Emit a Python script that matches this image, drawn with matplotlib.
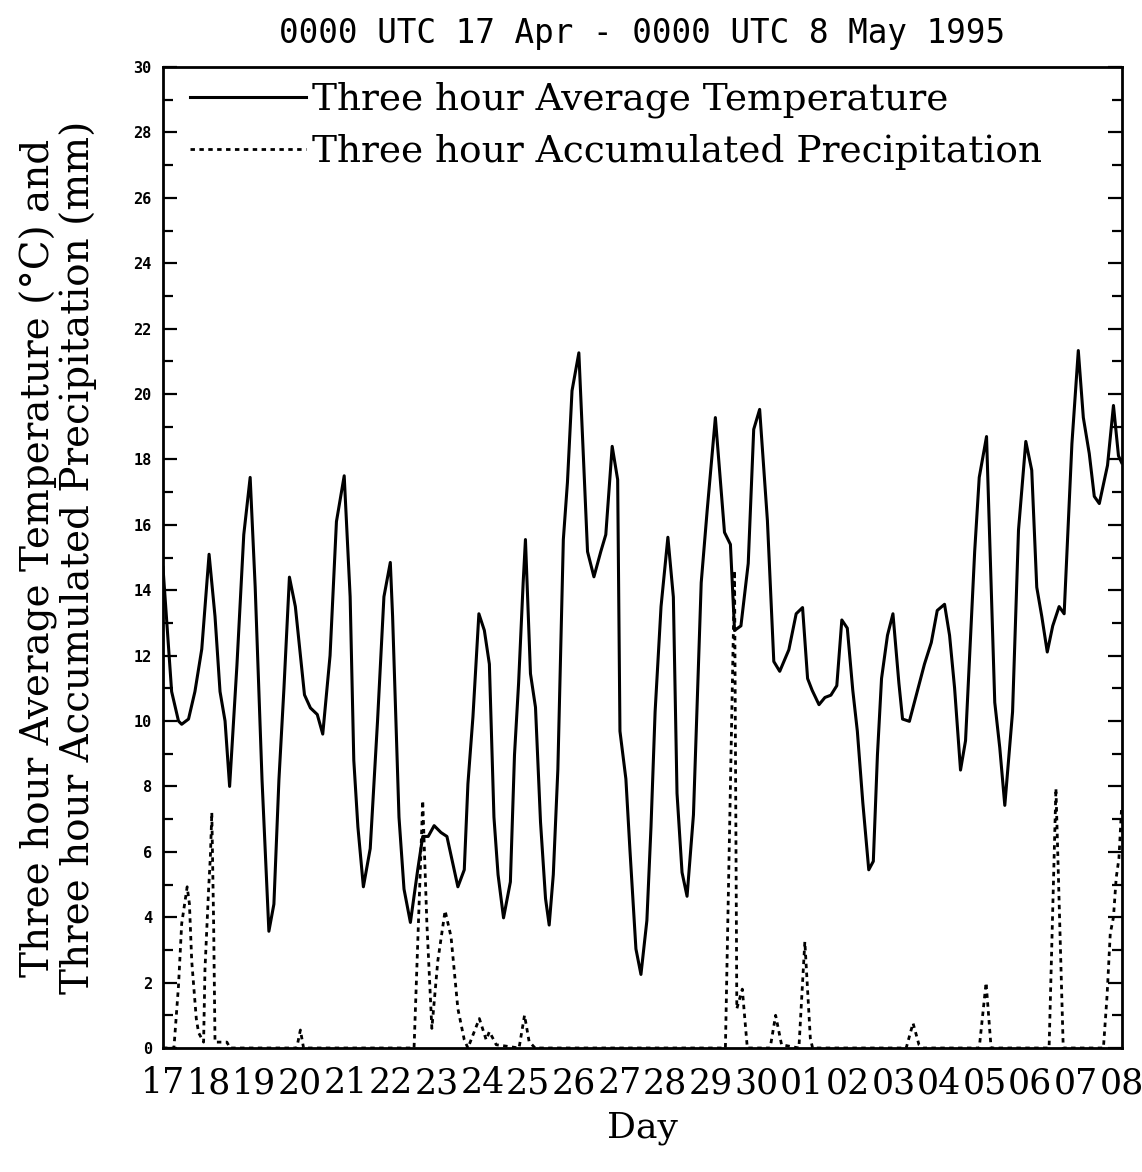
import numpy as np
import matplotlib
matplotlib.use('Agg')
import matplotlib.pyplot as plt
from matplotlib.ticker import MultipleLocator, FixedLocator

# days since 0000 UTC 17 Apr 1995
temp_days = [0.0, 0.19, 0.34, 0.41, 0.56, 0.70, 0.85, 1.01, 1.14, 1.25, 1.36, 1.46, 1.62, 1.77, 1.91,
             2.02, 2.17, 2.32, 2.43, 2.54, 2.65, 2.77, 2.90, 3.10, 3.23, 3.38, 3.50, 3.66, 3.80, 3.97,
             4.10, 4.18, 4.27, 4.39, 4.54, 4.70, 4.84, 4.98, 5.03, 5.17, 5.28, 5.42, 5.58, 5.69, 5.81,
             5.94, 6.09, 6.22, 6.46, 6.60, 6.68, 6.79, 6.92, 7.04, 7.15, 7.25, 7.34, 7.46, 7.61, 7.70,
             7.79, 7.89, 7.94, 8.05, 8.16, 8.27, 8.38, 8.46, 8.55, 8.65, 8.77, 8.86, 8.96, 9.11, 9.21,
             9.30, 9.44, 9.59, 9.70, 9.84, 9.96, 10.01, 10.14, 10.23, 10.36, 10.47, 10.60, 10.69, 10.78,
             10.91, 11.06, 11.18, 11.26, 11.37, 11.48, 11.62, 11.79, 11.92, 12.10, 12.30, 12.43, 12.52,
             12.66, 12.82, 12.94, 13.07, 13.24, 13.38, 13.51, 13.71, 13.87, 14.01, 14.12, 14.22, 14.37,
             14.50, 14.63, 14.76, 14.87, 14.99, 15.11, 15.21, 15.33, 15.46, 15.56, 15.65, 15.74, 15.87,
             15.99, 16.12, 16.20, 16.35, 16.53, 16.68, 16.83, 16.96, 17.12, 17.23, 17.34, 17.47, 17.58,
             17.67, 17.78, 17.88, 18.04, 18.22, 18.33, 18.44, 18.61, 18.74, 18.90, 19.03, 19.14, 19.25,
             19.37, 19.49, 19.63, 19.74, 19.91, 20.05, 20.16, 20.29, 20.40, 20.51, 20.69, 20.82, 20.93,
             21.0]
temp_vals = [14.7, 10.9, 10.0, 9.9, 10.06, 10.9, 12.2, 15.1, 13.2, 10.9, 10.0, 8.0, 11.7, 15.7, 17.45,
             14.1, 8.2, 3.57, 4.4, 8.2, 11.0, 14.4, 13.5, 10.8, 10.4, 10.2, 9.6, 12.0, 16.1, 17.5,
             13.8, 8.8, 6.76, 4.93, 6.1, 10.0, 13.8, 14.85, 13.2, 7.06, 4.86, 3.84, 5.45, 6.47, 6.47,
             6.8, 6.59, 6.47, 4.93, 5.45, 8.08, 10.13, 13.28, 12.77, 11.74, 7.06, 5.3, 3.98, 5.08, 8.96,
             11.16, 14.23, 15.55, 11.45, 10.42, 6.91, 4.57, 3.76, 5.3, 8.52, 15.55, 17.3, 20.1, 21.26, 18.04,
             15.18, 14.41, 15.18, 15.7, 18.4, 17.38, 9.69, 8.23, 6.03, 3.03, 2.25, 3.9, 6.76, 10.28,
             13.5, 15.62, 13.79, 7.79, 5.37, 4.64, 7.13, 14.23, 16.43, 19.28, 15.77, 15.4, 12.77,
             12.91, 14.82, 18.92, 19.53, 16.13, 11.82, 11.52, 12.18, 13.28, 13.47, 11.3, 10.94, 10.5,
             10.72, 10.79, 11.08, 13.09, 12.84, 10.94, 9.69, 7.5, 5.45, 5.71, 8.96, 11.3, 12.62,
             13.28, 11.16, 10.06, 9.99, 10.94, 11.74, 12.4, 13.38, 13.57, 12.62, 11.01, 8.5, 9.4,
             12.0, 15.18, 17.45, 18.7, 10.57, 9.18, 7.42, 10.28, 15.84, 18.55, 17.67, 14.09, 13.2,
             12.11, 12.91, 13.5, 13.28, 18.48, 21.33, 19.28, 18.18, 16.87, 16.65, 17.82, 19.65, 18.11,
             17.9]

precip_days = [0.0, 0.24, 0.34, 0.41, 0.53, 0.58, 0.63, 0.73, 0.78, 0.89, 0.92, 1.00, 1.04, 1.07, 1.11,
               1.14, 1.40, 1.47, 2.93, 3.01, 3.08, 5.50, 5.69, 5.78, 5.89, 6.02, 6.18, 6.31, 6.46, 6.60,
               6.68, 6.93, 7.08, 7.15, 7.30, 7.80, 7.92, 8.02, 8.15, 12.32, 12.52, 12.57, 12.69, 12.80,
               13.30, 13.42, 13.55, 13.93, 14.06, 14.18, 14.23, 16.28, 16.43, 16.56, 16.65, 17.88, 18.03,
               18.14, 19.41, 19.56, 19.72, 20.60, 20.68, 20.75, 20.82, 20.88, 20.94, 21.0]
precip_vals = [0, 0, 1.9, 3.8, 4.93, 4.4, 2.66, 0.9, 0.47, 0.18, 2.4, 4.86, 5.9, 7.2, 3.8,
               0.18, 0.18, 0, 0, 0.55, 0, 0, 7.57, 3.84, 0.6, 2.66, 4.2, 3.4, 1.2, 0.25,
               0, 0.9, 0.25, 0.5, 0.1, 0, 1.0, 0.2, 0, 0, 14.6, 1.2, 1.8, 0,
               0, 1.0, 0.1, 0, 3.25, 0.3, 0, 0, 0.76, 0.1, 0, 0, 2.0,
               0, 0, 7.94, 0, 0, 1.6, 3.5, 4.0, 5.2, 5.8, 7.4]

day_labels = ['17', '18', '19', '20', '21', '22', '23', '24', '25', '26', '27', '28', '29', '30',
              '01', '02', '03', '04', '05', '06', '07', '08']

serif = 'DejaVu Serif'
mono = 'DejaVu Sans Mono'

fig = plt.figure(figsize=(11.42, 11.72), dpi=100)
ax = fig.add_axes([0.1427, 0.1058, 0.8395, 0.8370])

ax.plot(temp_days, temp_vals, color='black', lw=2.2, label='Three hour Average Temperature')
ax.plot(precip_days, precip_vals, color='black', lw=2.0, linestyle=(0, (1.6, 1.6)),
        label='Three hour Accumulated Precipitation')

ax.set_xlim(0, 21)
ax.set_ylim(0, 30)

# y axis: labels every 2, ticks every 1, on both sides, pointing in
ax.yaxis.set_major_locator(MultipleLocator(2))
ax.yaxis.set_minor_locator(MultipleLocator(1))
ax.tick_params(axis='y', which='major', direction='in', left=True, right=True,
               length=10, width=1.6, pad=8)
ax.tick_params(axis='y', which='minor', direction='in', left=True, right=True,
               length=7, width=1.6)
for lbl in ax.get_yticklabels():
    lbl.set_fontfamily(mono)
    lbl.set_fontweight('bold')
    lbl.set_fontsize(11)

ax.xaxis.set_major_locator(FixedLocator(np.arange(len(day_labels))))
ax.set_xticklabels(day_labels, fontfamily=serif, fontsize=25)
ax.tick_params(axis='x', which='both', length=0, pad=13)

for s in ax.spines.values():
    s.set_linewidth(2.0)

ax.set_xlabel('Day', fontfamily=serif, fontsize=26, labelpad=8)
ax.set_ylabel('Three hour Average Temperature (\u00b0C) and\nThree hour Accumulated Precipitation (mm)',
              fontfamily=serif, fontsize=28, labelpad=26, linespacing=1.05)
ax.set_title('0000 UTC 17 Apr - 0000 UTC 8 May 1995', fontfamily=mono, fontsize=23.5, pad=17)

ax.legend(loc='upper left', bbox_to_anchor=(0.028, 0.985), frameon=False,
          prop={'family': serif, 'size': 27}, handlelength=3.1, handletextpad=0.15,
          labelspacing=0.42, borderpad=0, borderaxespad=0)

fig.savefig('out.png', dpi=100)
